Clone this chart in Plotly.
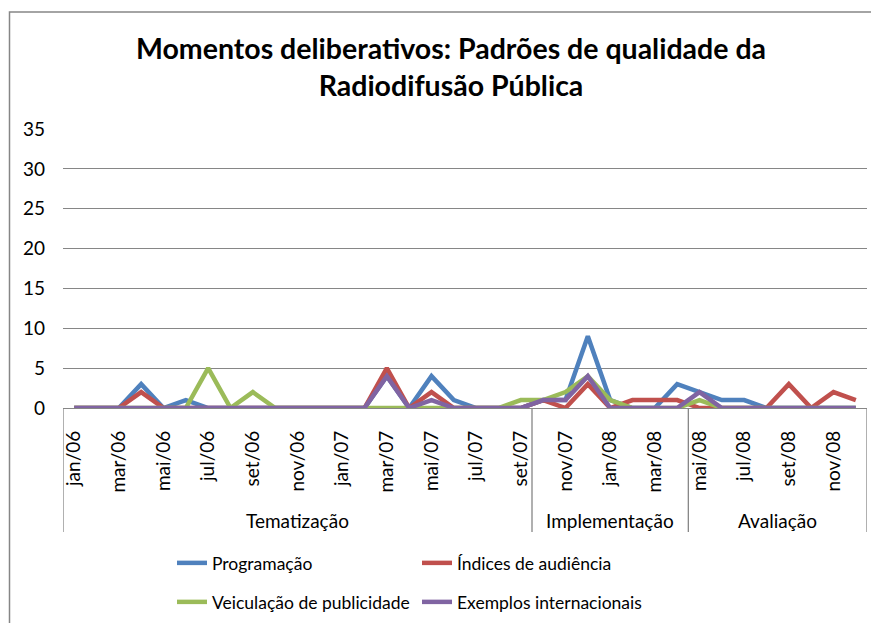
import plotly.graph_objects as go

months = ["jan/06","fev/06","mar/06","abr/06","mai/06","jun/06","jul/06","ago/06","set/06","out/06","nov/06","dez/06",
          "jan/07","fev/07","mar/07","abr/07","mai/07","jun/07","jul/07","ago/07","set/07","out/07","nov/07","dez/07",
          "jan/08","fev/08","mar/08","abr/08","mai/08","jun/08","jul/08","ago/08","set/08","out/08","nov/08","dez/08"]
tick_labels = ["jan/06","mar/06","mai/06","jul/06","set/06","nov/06","jan/07","mar/07","mai/07","jul/07","set/07",
               "nov/07","jan/08","mar/08","mai/08","jul/08","set/08","nov/08"]

programacao = [0,0,0,3,0,1,0,0,0,0,0,0, 0,0,4,0,4,1,0,0,0,1,1,9, 1,0,0,3,2,1,1,0,0,0,0,0]
indices     = [0,0,0,2,0,0,0,0,0,0,0,0, 0,0,5,0,2,0,0,0,0,1,0,3, 0,1,1,1,0,0,0,0,3,0,2,1]
publicidade = [0,0,0,0,0,0,5,0,2,0,0,0, 0,0,0,0,0,0,0,0,1,1,2,4, 1,0,0,0,1,0,0,0,0,0,0,0]
exemplos    = [0,0,0,0,0,0,0,0,0,0,0,0, 0,0,4,0,1,0,0,0,0,1,1,4, 0,0,0,0,2,0,0,0,0,0,0,0]

series_names = ["Programação", "Índices de audiência", "Veiculação de publicidade", "Exemplos internacionais"]
series_values = [programacao, indices, publicidade, exemplos]
colors = ["#4F81BD", "#C0504D", "#9BBB59", "#8064A2"]

group_names = ["Tematização", "Implementação", "Avaliação"]
group_sizes = [21, 7, 8]

FONT = "Lato, 'Open Sans', sans-serif"
W, H = 879, 623
OFF = 8  # page body margin offset
# desired screen positions of the plot area
SX0, SX1, SY0, SY1 = 63, 867, 129, 408
L = SX0 - OFF
R = W - (SX1 - OFF)
T = SY0 - OFF
B = H - (SY1 - OFF)
pw, ph = W - L - R, H - T - B

def px_x(p):  # screen x -> paper x
    return (p - SX0) / pw

def px_y(p):  # screen y -> paper y
    return (SY1 - p) / ph

fig = go.Figure()
legend_ids = ["legend", "legend2", "legend3", "legend4"]
legend_pos = [(172, 563), (417, 563), (172, 602), (417, 602)]
for i, (name, vals, col) in enumerate(zip(series_names, series_values, colors)):
    fig.add_trace(go.Scatter(
        x=months, y=vals, name=name, mode="lines",
        line=dict(color=col, width=4.5), cliponaxis=False,
        legend=legend_ids[i],
    ))

legend_layout = {}
for lid, (lx, ly) in zip(legend_ids, legend_pos):
    legend_layout[lid] = dict(
        xref="container", yref="container", x=(lx - OFF) / W, y=1 - (ly - OFF) / H,
        xanchor="left", yanchor="middle", bgcolor="rgba(0,0,0,0)",
        font=dict(family=FONT, size=17.5, color="#000000"), borderwidth=0,
    )

shapes = [dict(type="rect", xref="paper", yref="paper",
               x0=px_x(9.5), x1=px_x(895), y0=px_y(660), y1=px_y(12),
               line=dict(color="#868686", width=1.5), fillcolor="rgba(0,0,0,0)", layer="below")]

annotations = []
start = 0
bounds = [-0.5]
for gname, gsize in zip(group_names, group_sizes):
    end = start + gsize
    bounds.append(end - 0.5)
    annotations.append(dict(x=(start + end - 1) / 2, y=px_y(520), xref="x", yref="paper",
                            text=gname, showarrow=False, xanchor="center", yanchor="middle",
                            font=dict(family=FONT, size=19, color="#000000")))
    start = end
for b in bounds:
    shapes.append(dict(type="line", xref="x", yref="paper", x0=b, x1=b,
                       y0=0, y1=px_y(532), line=dict(color="#868686", width=1.3)))

fig.update_layout(
    width=W, height=H,
    margin=dict(l=L, r=R, t=T, b=B, autoexpand=False),
    paper_bgcolor="white", plot_bgcolor="white",
    title=dict(text="<b>Momentos deliberativos: Padrões de qualidade da<br>Radiodifusão Pública</b>",
               x=(451 - OFF) / W, xref="container", xanchor="center",
               y=1 - (59 - OFF) / H, yref="container", yanchor="middle",
               font=dict(family=FONT, size=28.5, color="#000000")),
    showlegend=True,
    shapes=shapes,
    annotations=annotations,
    **legend_layout,
)
fig.update_xaxes(
    type="category", categoryorder="array", categoryarray=months,
    range=[-0.5, len(months) - 0.5], automargin=False,
    tickmode="array", tickvals=tick_labels, ticktext=tick_labels, tickangle=-90,
    tickfont=dict(family=FONT, size=19, color="#000000"),
    showline=True, linecolor="#868686", linewidth=1.3,
    showgrid=False, zeroline=False, ticks="", ticklabelstandoff=14,
)
fig.update_yaxes(
    range=[0, 35], tickmode="array", tickvals=[0, 5, 10, 15, 20, 25, 30, 35],
    tickfont=dict(family=FONT, size=19, color="#000000"), automargin=False,
    showgrid=True, gridcolor="#868686", gridwidth=1.3,
    zeroline=False, showline=False, ticks="", ticklabelstandoff=17,
)
fig.write_html("out.html")
